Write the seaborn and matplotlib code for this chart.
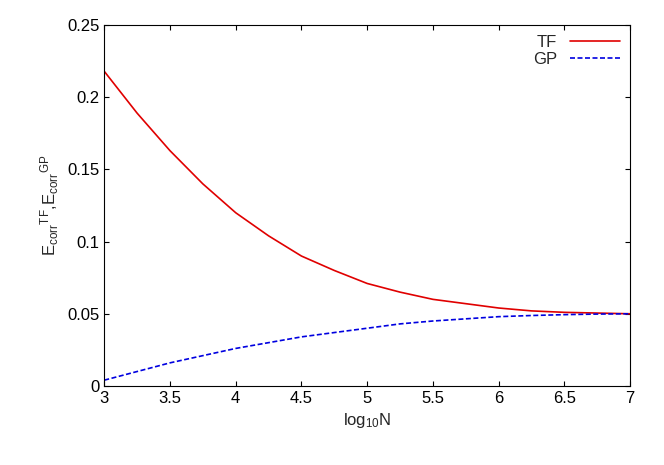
import matplotlib
matplotlib.use("Agg")
import matplotlib.pyplot as plt
import seaborn as sns
import pandas as pd

logN = [3, 3.25, 3.5, 3.75, 4, 4.25, 4.5, 4.75, 5, 5.25, 5.5, 5.75, 6, 6.25, 6.5, 6.75, 7]
tf = [0.218, 0.189, 0.163, 0.140, 0.120, 0.104, 0.090, 0.080, 0.071, 0.065, 0.060, 0.057, 0.054, 0.052, 0.051, 0.0505, 0.050]
gp = [0.004, 0.010, 0.016, 0.021, 0.026, 0.030, 0.034, 0.037, 0.040, 0.043, 0.045, 0.0465, 0.048, 0.0488, 0.0494, 0.0498, 0.050]
xticks = [3, 3.5, 4, 4.5, 5, 5.5, 6, 6.5, 7]
yticks = [0, 0.05, 0.1, 0.15, 0.2, 0.25]
ytick_labels = ["0", "0.05", "0.1", "0.15", "0.2", "0.25"]

sns.set_style("ticks")
plt.rcParams["font.family"] = "Liberation Sans"
plt.rcParams["mathtext.fontset"] = "custom"
plt.rcParams["mathtext.rm"] = "Liberation Sans"
plt.rcParams["mathtext.default"] = "regular"
fig = plt.figure(figsize=(6.64, 4.65), dpi=100)
ax = fig.add_axes([0.157, 0.17, 0.792, 0.776])
df = pd.DataFrame({"x": logN, "TF": tf, "GP": gp})
sns.lineplot(data=df, x="x", y="TF", ax=ax, color="#e00000", lw=1.2, label="TF")
sns.lineplot(data=df, x="x", y="GP", ax=ax, color="#0000e0", lw=1.2, ls=(0, (3, 1.5)), label="GP")
ax.set_xlim(3, 7)
ax.set_ylim(0, 0.25)
ax.set_xticks(xticks)
ax.set_xticklabels([f"{t:g}" for t in xticks])
ax.set_yticks(yticks)
ax.set_yticklabels(ytick_labels)
ax.tick_params(direction="in", top=True, right=True, labelsize=12, colors="black")
for s in ax.spines.values():
    s.set_linewidth(0.8)
    s.set_color("black")
ax.set_xlabel(r"log$_{10}$N", fontsize=12)
ax.set_ylabel(r"E$_{corr}$$^{TF}$,E$_{corr}$$^{GP}$", fontsize=12)
ax.legend(loc="upper right", frameon=False, markerfirst=False, fontsize=12,
          handlelength=3, borderaxespad=0.2, labelspacing=0.1)
fig.savefig("out.png", dpi=100)
